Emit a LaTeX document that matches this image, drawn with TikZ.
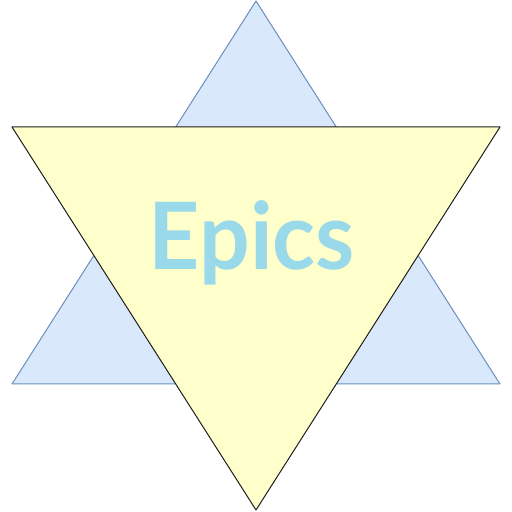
\documentclass[tikz,border=0pt]{standalone}
\usepackage{fontspec}
\setmainfont{Lato}
\begin{document}
\begin{tikzpicture}[x=1pt,y=1pt,
  bluetri/.style={fill={rgb,255:red,218;green,232;blue,252},draw={rgb,255:red,108;green,142;blue,191},line width=1pt,line join=round},
  yellowtri/.style={fill={rgb,255:red,255;green,255;blue,204},draw={rgb,255:red,30;green,30;blue,30},line width=1pt,line join=round},
  label/.style={text={rgb,255:red,153;green,217;blue,234},font=\bfseries\fontsize{93}{93}\selectfont,inner sep=0pt,anchor=base,xscale=0.96}]
\useasboundingbox (0,0) rectangle (512,512);
\coordinate (b1) at (256,511);
\coordinate (b2) at (12,128);
\coordinate (b3) at (500,128);
\draw[bluetri] (b1) -- (b2) -- (b3) -- cycle;
\coordinate (y1) at (12,385);
\coordinate (y2) at (500,385);
\coordinate (y3) at (256,2);
\draw[yellowtri] (y1) -- (y2) -- (y3) -- cycle;
\node[label] (t) at (252,242) {Epics};
\end{tikzpicture}
\end{document}
